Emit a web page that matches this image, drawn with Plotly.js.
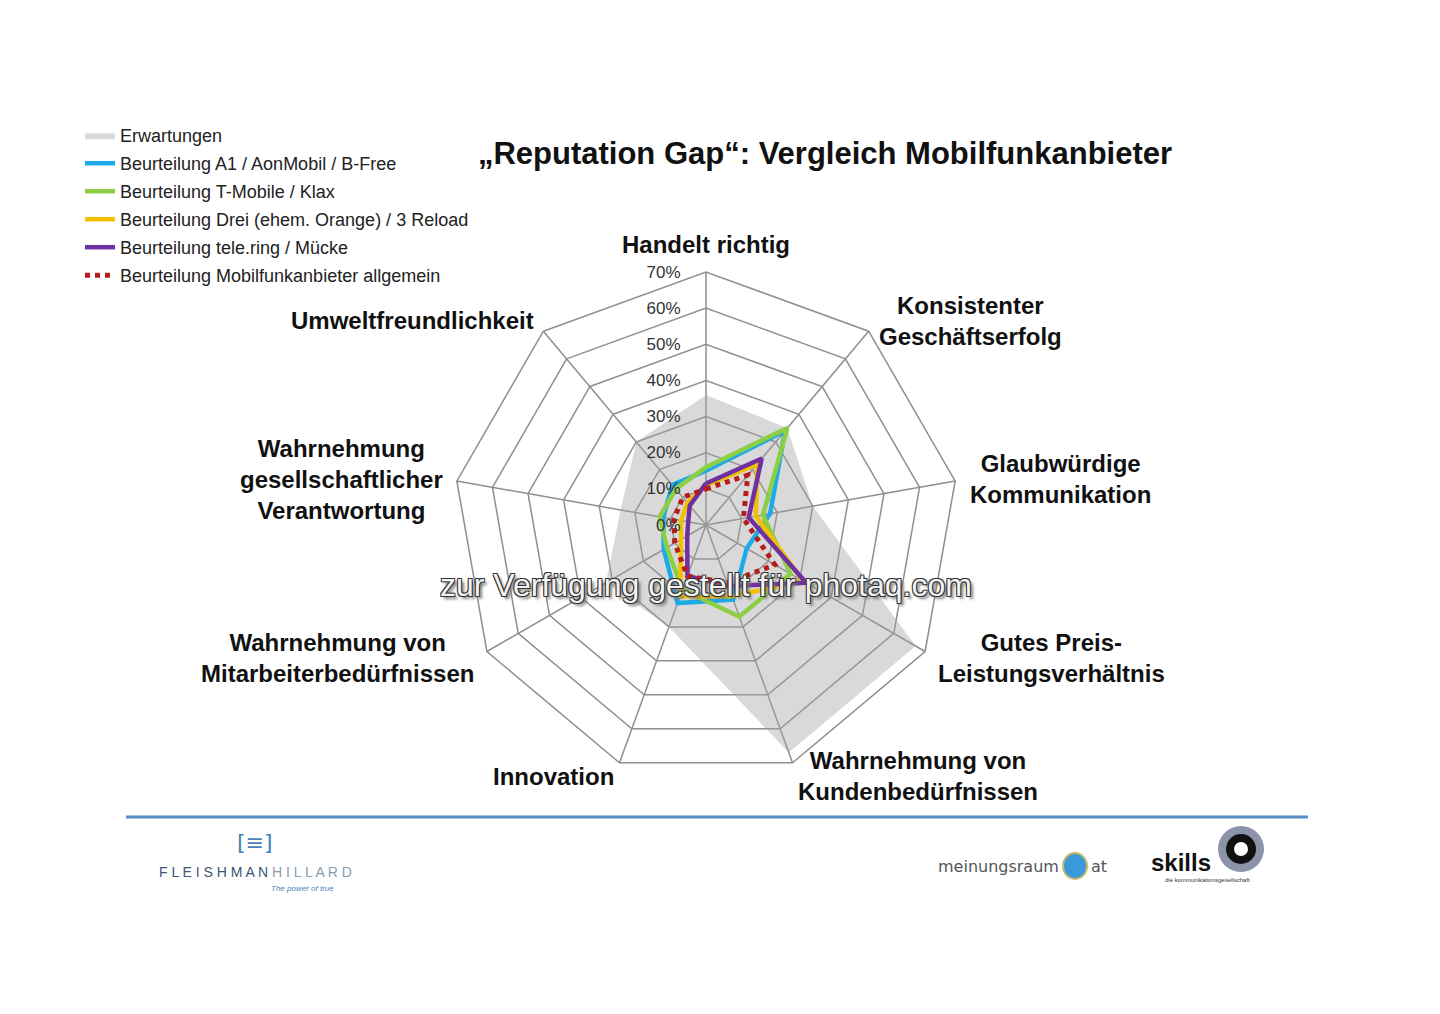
<!DOCTYPE html>
<html>
<head>
<meta charset="utf-8">
<script src="https://cdn.plot.ly/plotly-3.0.1.min.js"></script>
<style>
  html, body { margin: 0; padding: 0; background: #ffffff; }
  #chart { width: 1440px; height: 1014px; }
</style>
</head>
<body>
<div id="chart"></div>
<script>
// ---------- DATA ----------
const categories = [
  'Handelt richtig',
  'Konsistenter Geschäftserfolg',
  'Glaubwürdige Kommunikation',
  'Gutes Preis-Leistungsverhältnis',
  'Wahrnehmung von Kundenbedürfnissen',
  'Innovation',
  'Wahrnehmung von Mitarbeiterbedürfnissen',
  'Wahrnehmung gesellschaftlicher Verantwortung',
  'Umweltfreundlichkeit'
];
const categoryLabels = [
  'Handelt richtig',
  'Konsistenter<br>Geschäftserfolg',
  'Glaubwürdige<br>Kommunikation',
  'Gutes Preis-<br>Leistungsverhältnis',
  'Wahrnehmung von<br>Kundenbedürfnissen',
  'Innovation',
  'Wahrnehmung von<br>Mitarbeiterbedürfnissen',
  'Wahrnehmung<br>gesellschaftlicher<br>Verantwortung',
  'Umweltfreundlichkeit'
];
const seriesNames = [
  'Erwartungen',
  'Beurteilung A1 / AonMobil / B-Free',
  'Beurteilung T-Mobile / Klax',
  'Beurteilung Drei (ehem. Orange) / 3 Reload',
  'Beurteilung tele.ring / Mücke',
  'Beurteilung Mobilfunkanbieter allgemein'
];
const erwartungen = [36, 35, 30, 67, 67, 30, 32, 24, 30];
const a1          = [15, 34, 18, 13, 22, 23, 13.5, 12, 14.5];
const tmobile     = [16, 35, 16, 27, 27, 19, 12.5, 13, 13];
const drei        = [11, 22, 14, 31, 21, 21, 8, 7, 8];
const telering    = [11.5, 24, 12, 32, 18, 15, 6, 5, 7];
const allgemein   = [10, 18, 10.5, 22, 17, 15, 10, 9, 10];
const radialTicks = [0, 10, 20, 30, 40, 50, 60, 70];
const radialTickText = ['0%', '10%', '20%', '30%', '40%', '50%', '60%', '70%'];
const chartTitle = '„Reputation Gap“: Vergleich Mobilfunkanbieter';
const watermark = 'zur Verfügung gestellt für photaq.com';

// ---------- STYLE ----------
const FONT = 'Arial, "Liberation Sans", sans-serif';
const gridColor = '#8f8f8f';
const styles = [
  {color: 'rgba(160,160,160,0.40)', fill: true},
  {color: '#1cabe6', width: 4.5},
  {color: '#8ccf45', width: 4.5},
  {color: '#f3c000', width: 4.5},
  {color: '#7030a0', width: 4.5},
  {color: '#b71c1c', width: 5, dash: 'dot'}
];
const seriesValues = [erwartungen, a1, tmobile, drei, telering, allgemein];

function closed(arr) { return arr.concat([arr[0]]); }

const traces = seriesValues.map((vals, i) => {
  const s = styles[i];
  const base = {
    type: 'scatterpolar', name: seriesNames[i], legendgroup: 'g' + i,
    r: closed(vals), theta: closed(categories), mode: 'lines',
    hoverinfo: 'name+r+theta'
  };
  if (s.fill) {
    return Object.assign(base, {
      fill: 'toself', fillcolor: s.color,
      line: {color: 'rgba(0,0,0,0)', width: 0}
    });
  }
  return Object.assign(base, {
    line: {color: s.color, width: s.width, dash: s.dash || 'solid'}
  });
});

// label placement (paper px)
const labelPos = [
  [706, 244], [970, 321], [1060, 479], [1051, 658], [918, 776],
  [553, 776], [337, 658], [341, 479], [412, 320]
];
const W = 1440, H = 1014;
function px(x, y) { return {x: x / W, y: 1 - y / H, xref: 'paper', yref: 'paper'}; }

const annotations = categoryLabels.map((t, i) => Object.assign(px(labelPos[i][0], labelPos[i][1]), {
  text: '<b>' + t + '</b>',
  xanchor: 'center', yanchor: 'middle',
  showarrow: false, align: 'center',
  font: {family: FONT, size: 24, color: '#111111'}
}));

// watermark
annotations.push(Object.assign(px(706, 585), {
  text: watermark, xanchor: 'center', yanchor: 'middle', showarrow: false,
  font: {family: FONT, size: 32, color: '#f2f2f2',
         shadow: '-1px -1px 0 #333, 1px -1px 0 #333, -1px 1px 0 #333, 1px 1px 0 #333, 3px 3px 3px #777'}
}));

// footer logos (text)
function footText(x, y, text, font, xa) {
  return Object.assign(px(x, y), {text: text, xanchor: xa || 'center', yanchor: 'middle',
                                  showarrow: false, font: font});
}
annotations.push(
  footText(255, 842, '[≡]', {family: '"DejaVu Sans", sans-serif', size: 22, color: '#4a7fb5'}),
  footText(255, 872, 'F L E I S H M A N <span style="color:#8b9bb0">H I L L A R D</span>',
           {family: FONT, size: 14, color: '#3d5575'}),
  footText(302, 888, '<i>The power of true</i>', {family: FONT, size: 8, color: '#4a7fb5'}),
  footText(1061, 866, 'meinungsraum', {family: '"DejaVu Sans", sans-serif', size: 16, color: '#555555'}, 'right'),
  footText(1089, 866, 'at', {family: '"DejaVu Sans", sans-serif', size: 16, color: '#555555'}, 'left'),
  footText(1181, 862, '<b>skills</b>', {family: FONT, size: 24, color: '#111111'}),
  footText(1207, 880, 'die kommunikationsgesellschaft', {family: FONT, size: 6, color: '#333333'})
);

const shapes = [
  {type: 'line', xref: 'paper', yref: 'paper', x0: 126 / W, x1: 1308 / W,
   y0: 1 - 817 / H, y1: 1 - 817 / H, line: {color: '#5a8dc5', width: 3}},
  // meinungsraum globe
  {type: 'circle', xref: 'paper', yref: 'paper', x0: 1063 / W, x1: 1087 / W,
   y0: 1 - 879 / H, y1: 1 - 853 / H, fillcolor: '#3a9ad9', line: {color: '#c9b86a', width: 2}},
  // skills O
  {type: 'circle', xref: 'paper', yref: 'paper', x0: 1218 / W, x1: 1264 / W,
   y0: 1 - 872 / H, y1: 1 - 826 / H, fillcolor: '#8a93a8', line: {width: 0}},
  {type: 'circle', xref: 'paper', yref: 'paper', x0: 1226 / W, x1: 1256 / W,
   y0: 1 - 864 / H, y1: 1 - 834 / H, fillcolor: '#111111', line: {width: 0}},
  {type: 'circle', xref: 'paper', yref: 'paper', x0: 1234 / W, x1: 1248 / W,
   y0: 1 - 856 / H, y1: 1 - 842 / H, fillcolor: '#ffffff', line: {width: 0}}
];

const cx = 706, cy = 525, R = 253;
const layout = {
  width: W, height: H,
  margin: {l: 0, r: 0, t: 0, b: 0},
  paper_bgcolor: '#ffffff',
  font: {family: FONT},
  title: {
    text: '<b>' + chartTitle + '</b>',
    x: 825 / W, xanchor: 'center', y: 1 - 153 / H, yanchor: 'middle',
    font: {family: FONT, size: 31, color: '#111111'}
  },
  showlegend: true,
  legend: {
    x: 80 / W, y: 1 - 117 / H, xanchor: 'left', yanchor: 'top',
    bgcolor: 'rgba(0,0,0,0)', itemwidth: 30, tracegroupgap: 1.6,
    font: {family: FONT, size: 18, color: '#222222'}
  },
  polar: {
    domain: {x: [(cx - R) / W, (cx + R) / W], y: [(H - cy - R) / H, (H - cy + R) / H]},
    bgcolor: '#ffffff',
    gridshape: 'linear',
    radialaxis: {
      range: [0, 70], tickmode: 'array', tickvals: radialTicks, ticktext: radialTickText,
      angle: 90, tickangle: 90, side: 'counterclockwise',
      showline: false, ticks: 'outside', ticklen: 19, tickcolor: 'rgba(0,0,0,0)',
      gridcolor: gridColor, gridwidth: 1.5,
      tickfont: {family: FONT, size: 17, color: '#333333'}
    },
    angularaxis: {
      direction: 'clockwise', rotation: 90,
      showticklabels: false, ticks: '',
      gridcolor: gridColor, gridwidth: 1.5,
      showline: true, linecolor: gridColor, linewidth: 1.5
    }
  },
  annotations: annotations,
  shapes: shapes
};

Plotly.newPlot('chart', traces, layout, {displayModeBar: false, staticPlot: true});
</script>
</body>
</html>
